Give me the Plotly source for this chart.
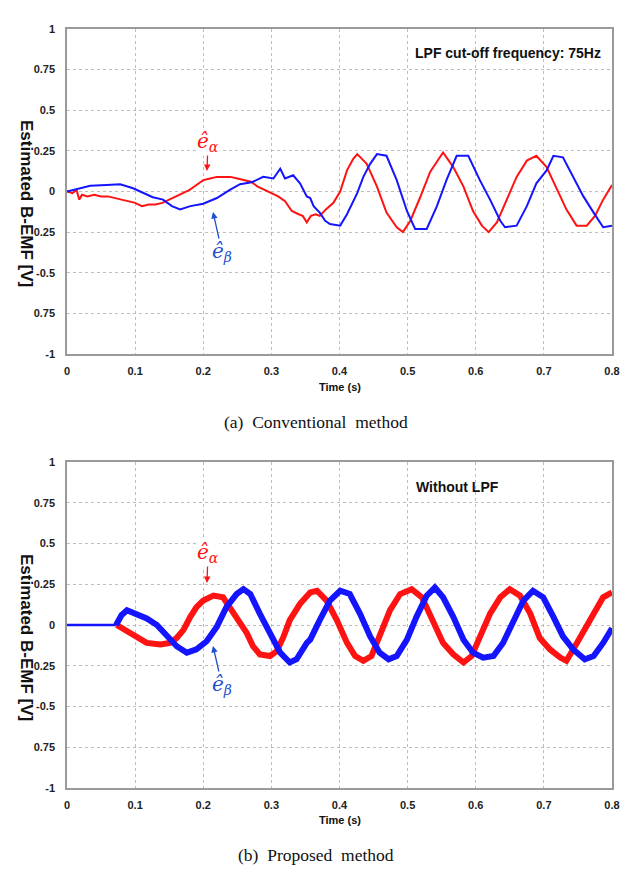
import plotly.graph_objects as go

# ---------------- data ----------------
# (a) Conventional method
a_red_t = [0.000, 0.008, 0.014, 0.018, 0.022, 0.030, 0.040, 0.050, 0.060, 0.070, 0.080, 0.090,
           0.100, 0.110, 0.120, 0.130, 0.140, 0.150, 0.160, 0.170, 0.180, 0.190, 0.200, 0.210,
           0.220, 0.230, 0.240, 0.250, 0.260, 0.270, 0.280, 0.290, 0.300, 0.310, 0.320, 0.330,
           0.340, 0.346, 0.352, 0.358, 0.365, 0.371, 0.380, 0.391, 0.401, 0.411, 0.420, 0.426,
           0.440, 0.455, 0.469, 0.484, 0.493, 0.504, 0.518, 0.533, 0.552, 0.567, 0.582, 0.596,
           0.609, 0.619, 0.631, 0.646, 0.660, 0.675, 0.689, 0.704, 0.719, 0.733, 0.748, 0.763,
           0.775, 0.787, 0.800]
a_red_v = [0.00, -0.01, 0.01, -0.05, -0.02, -0.03, -0.02, -0.03, -0.03, -0.04, -0.05, -0.06,
           -0.07, -0.09, -0.08, -0.08, -0.07, -0.05, -0.03, -0.01, 0.01, 0.04, 0.07, 0.08,
           0.09, 0.09, 0.09, 0.08, 0.07, 0.06, 0.03, 0.01, -0.01, -0.03, -0.06, -0.12,
           -0.14, -0.15, -0.19, -0.15, -0.14, -0.15, -0.11, -0.07, 0.00, 0.13, 0.20, 0.23,
           0.17, 0.03, -0.13, -0.22, -0.25, -0.18, -0.04, 0.12, 0.24, 0.15, 0.03, -0.12,
           -0.21, -0.25, -0.19, -0.05, 0.09, 0.19, 0.22, 0.15, 0.02, -0.11, -0.21, -0.21,
           -0.15, -0.05, 0.04]

a_blue_t = [0.000, 0.018, 0.034, 0.058, 0.078, 0.097, 0.112, 0.126, 0.141, 0.154, 0.166, 0.181,
            0.200, 0.220, 0.239, 0.254, 0.269, 0.273, 0.288, 0.303, 0.313, 0.320, 0.332, 0.342,
            0.352, 0.357, 0.362, 0.371, 0.379, 0.386, 0.401, 0.411, 0.426, 0.435, 0.445, 0.455,
            0.469, 0.484, 0.499, 0.511, 0.528, 0.543, 0.557, 0.572, 0.589, 0.606, 0.621, 0.636,
            0.643, 0.660, 0.675, 0.689, 0.704, 0.714, 0.728, 0.743, 0.758, 0.773, 0.787, 0.800]
a_blue_v = [0.00, 0.02, 0.035, 0.04, 0.045, 0.02, -0.01, -0.035, -0.05, -0.09, -0.11, -0.09,
            -0.075, -0.04, 0.01, 0.045, 0.055, 0.06, 0.09, 0.08, 0.14, 0.08, 0.10, 0.05,
            -0.03, -0.04, -0.09, -0.13, -0.18, -0.20, -0.21, -0.14, -0.01, 0.09, 0.17, 0.23,
            0.22, 0.07, -0.12, -0.23, -0.23, -0.09, 0.07, 0.22, 0.22, 0.07, -0.05, -0.18,
            -0.22, -0.21, -0.09, 0.05, 0.13, 0.22, 0.21, 0.09, -0.03, -0.13, -0.22, -0.21]

# (b) Proposed method: idle (zero) stretch before start-up, then running signals
b_idle_t = [0.000, 0.072]
b_idle_v = [0.00, 0.00]

b_red_t = [0.073, 0.088, 0.102, 0.117, 0.137, 0.151, 0.161, 0.171, 0.181, 0.190, 0.200,
           0.215, 0.229, 0.239, 0.254, 0.264, 0.273, 0.283, 0.298, 0.308, 0.318, 0.327, 0.342,
           0.357, 0.367, 0.381, 0.396, 0.411, 0.423, 0.435, 0.447, 0.459, 0.474, 0.489, 0.506,
           0.521, 0.538, 0.552, 0.567, 0.582, 0.594, 0.606, 0.621, 0.636, 0.650, 0.665, 0.680,
           0.694, 0.709, 0.724, 0.733, 0.743, 0.758, 0.773, 0.787, 0.800]
b_red_v = [0.00, -0.04, -0.08, -0.11, -0.12, -0.11, -0.08, -0.03, 0.05, 0.11, 0.15,
           0.18, 0.17, 0.11, 0.02, -0.05, -0.13, -0.18, -0.19, -0.16, -0.07, 0.03, 0.13,
           0.20, 0.21, 0.15, 0.03, -0.11, -0.19, -0.22, -0.19, -0.07, 0.09, 0.19, 0.22,
           0.17, 0.02, -0.11, -0.18, -0.23, -0.19, -0.07, 0.07, 0.17, 0.22, 0.18, 0.07,
           -0.08, -0.15, -0.20, -0.22, -0.15, -0.04, 0.07, 0.17, 0.20]

b_blue_t = [0.072, 0.080, 0.088, 0.102, 0.117, 0.132, 0.146, 0.161, 0.176, 0.190, 0.205,
            0.220, 0.234, 0.249, 0.259, 0.269, 0.283, 0.298, 0.313, 0.327, 0.337, 0.352, 0.357,
            0.371, 0.386, 0.401, 0.415, 0.430, 0.445, 0.459, 0.472, 0.484, 0.499, 0.513, 0.528,
            0.540, 0.552, 0.567, 0.582, 0.596, 0.611, 0.626, 0.640, 0.655, 0.670, 0.684, 0.699,
            0.714, 0.728, 0.743, 0.760, 0.773, 0.787, 0.800]
b_blue_v = [0.00, 0.06, 0.09, 0.065, 0.04, 0.00, -0.06, -0.13, -0.17, -0.15, -0.10,
            -0.01, 0.11, 0.19, 0.22, 0.19, 0.07, -0.05, -0.17, -0.23, -0.21, -0.11, -0.09,
            0.03, 0.15, 0.21, 0.19, 0.07, -0.07, -0.17, -0.21, -0.19, -0.09, 0.05, 0.18,
            0.23, 0.17, 0.05, -0.09, -0.17, -0.20, -0.19, -0.11, 0.02, 0.15, 0.21, 0.17,
            0.05, -0.07, -0.15, -0.21, -0.19, -0.11, -0.02]

x_tick_vals = [0, 0.1, 0.2, 0.3, 0.4, 0.5, 0.6, 0.7, 0.8]
x_tick_text = ["0", "0.1", "0.2", "0.3", "0.4", "0.5", "0.6", "0.7", "0.8"]
y_tick_vals = [1, 0.75, 0.5, 0.25, 0, -0.25, -0.5, -0.75, -1]
y_tick_text = ["1", "0.75", "0.5", "0.25", "0", "0.25", "-0.5", "0.75", "-1"]

RED = "#ff1212"
BLUE = "#1414ff"
LBLUE = "#1f4fd0"

# the page body adds an 8px margin, so the figure is sized to fit inside the window
OFF = 8
W, H = 642 - OFF, 876 - OFF

fig = go.Figure()
fig.add_trace(go.Scatter(x=a_red_t, y=a_red_v, mode="lines", line=dict(color=RED, width=2),
                         xaxis="x", yaxis="y", showlegend=False))
fig.add_trace(go.Scatter(x=a_blue_t, y=a_blue_v, mode="lines", line=dict(color=BLUE, width=2),
                         xaxis="x", yaxis="y", showlegend=False))
fig.add_trace(go.Scatter(x=b_red_t, y=b_red_v, mode="lines", line=dict(color=RED, width=6),
                         xaxis="x2", yaxis="y2", showlegend=False))
fig.add_trace(go.Scatter(x=b_blue_t, y=b_blue_v, mode="lines", line=dict(color=BLUE, width=6),
                         xaxis="x2", yaxis="y2", showlegend=False))
fig.add_trace(go.Scatter(x=b_idle_t, y=b_idle_v, mode="lines", line=dict(color=BLUE, width=2.5),
                         xaxis="x2", yaxis="y2", showlegend=False))

SANS = "Liberation Sans, Arial, sans-serif"
SERIF = "Liberation Serif, Times New Roman, serif"
MATH = "DejaVu Serif, Liberation Serif, serif"

TICKFONT = dict(family=SANS, size=11, color="#222222", weight="bold")

def X(px):
    return (px - OFF) / W

def Y(py):
    return 1 - (py - OFF) / H

def xax(anchor):
    return dict(domain=[X(67), X(612)], range=[0, 0.8], anchor=anchor, automargin=False,
                tickvals=x_tick_vals, ticktext=x_tick_text, tickfont=TICKFONT,
                showgrid=True, gridcolor="#bdbdbd", griddash="dot", gridwidth=1,
                showline=True, linecolor="#9a9a9a", linewidth=1.5, mirror=True,
                zeroline=False, ticks="", ticklabelstandoff=6)

def yax(anchor, top, bottom):
    return dict(domain=[Y(bottom), Y(top)], range=[-1, 1], anchor=anchor,
                automargin=False,
                tickvals=y_tick_vals, ticktext=y_tick_text, tickfont=TICKFONT,
                showgrid=True, gridcolor="#bdbdbd", griddash="dot", gridwidth=1,
                showline=True, linecolor="#9a9a9a", linewidth=1.5, mirror=True,
                zeroline=False, ticks="", ticklabelstandoff=8)

fig.update_layout(
    width=W, height=H, margin=dict(l=0, r=0, t=0, b=0, autoexpand=False),
    paper_bgcolor="white", plot_bgcolor="white",
    xaxis=xax("y"), yaxis=yax("x", 29, 354),
    xaxis2=xax("y2"), yaxis2=yax("x2", 462, 788),
)

anns = []
def text(px, py, s, size, family, color="#111111", angle=0, weight="normal"):
    anns.append(dict(x=X(px), y=Y(py), xref="paper", yref="paper", text=s, showarrow=False,
                     textangle=angle, xanchor="center", yanchor="middle",
                     font=dict(size=size, family=family, color=color, weight=weight)))

def label_arrow(lx, ly, hx, hy, s, color):
    # text label centred at (lx, ly) with an arrow pointing to (hx, hy)
    anns.append(dict(x=X(hx), y=Y(hy), xref="paper", yref="paper", text=s, showarrow=True,
                     ax=lx - hx, ay=ly - hy, axref="pixel", ayref="pixel",
                     arrowhead=2, arrowsize=1, arrowwidth=1.3, arrowcolor=color,
                     bgcolor="white", borderpad=0,
                     font=dict(size=20, family=MATH, color=color)))

# y-axis titles
text(27, 203, "Estimated B-EMF [V]", 17, SANS, angle=90, weight="bold")
text(27, 637, "Estimated B-EMF [V]", 17, SANS, angle=90, weight="bold")
# x-axis titles
text(340, 387, "Time (s)", 11, SANS, weight="bold")
text(340, 820, "Time (s)", 11, SANS, weight="bold")
# in-plot labels
text(508, 53, "LPF cut-off frequency: 75Hz", 14, SANS, weight="bold")
text(457, 487, "Without LPF", 14, SANS, weight="bold")
# captions
text(316, 422, "(a)\u00a0\u00a0Conventional\u00a0\u00a0method", 17.5, SERIF)
text(316, 855, "(b)\u00a0\u00a0Proposed\u00a0\u00a0method", 17.5, SERIF)

EA = "<i>ê</i><sub><i>α</i></sub>"
EB = "<i>ê</i><sub><i>β</i></sub>"
label_arrow(208, 142, 207, 171, EA, RED)
label_arrow(222, 252, 213, 212, EB, LBLUE)
label_arrow(208, 553, 207, 583, EA, RED)
label_arrow(222, 685, 213, 646, EB, LBLUE)

fig.update_layout(annotations=anns)
fig.write_html("out.html")
